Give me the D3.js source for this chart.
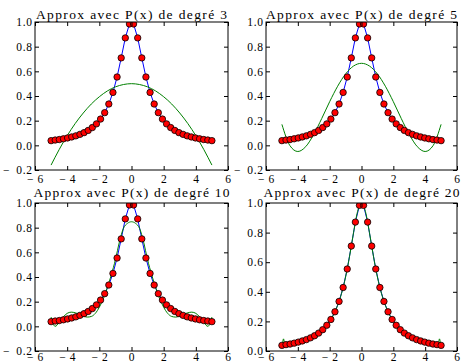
<!DOCTYPE html>
<html>
<head>
<meta charset="utf-8">
<script src="https://cdn.jsdelivr.net/npm/d3@7"></script>
<style>
  body { margin: 0; background: #fff; }
  svg { display: block; }
  text { font-family: "Liberation Serif", "Times New Roman", serif; }
</style>
</head>
<body>
<svg id="chart" width="462" height="363"></svg>
<script>
// sampled points (red dots + blue line)
const sampleX = [-5, -4.744, -4.487, -4.231, -3.974, -3.718, -3.462, -3.205, -2.949, -2.692,
  -2.436, -2.179, -1.923, -1.667, -1.410, -1.154, -0.897, -0.641, -0.385, -0.128,
  0.128, 0.385, 0.641, 0.897, 1.154, 1.410, 1.667, 1.923, 2.179, 2.436,
  2.692, 2.949, 3.205, 3.462, 3.718, 3.974, 4.231, 4.487, 4.744, 5];
const sampleY = [0.038, 0.043, 0.047, 0.053, 0.060, 0.068, 0.077, 0.089, 0.103, 0.121,
  0.144, 0.174, 0.213, 0.265, 0.335, 0.429, 0.554, 0.709, 0.871, 0.984,
  0.984, 0.871, 0.709, 0.554, 0.429, 0.335, 0.265, 0.213, 0.174, 0.144,
  0.121, 0.103, 0.089, 0.077, 0.068, 0.060, 0.053, 0.047, 0.043, 0.038];

// green approximations, one per degree
const degrees = [3, 5, 10, 20];
const fit3X = [-5, -4.5, -4, -3.5, -3, -2.5, -2, -1.5, -1, -0.5, 0, 0.5, 1, 1.5, 2, 2.5, 3, 3.5, 4, 4.5, 5];
const fit3Y = [-0.16, -0.035, 0.078, 0.177, 0.262, 0.335, 0.394, 0.441, 0.474, 0.493, 0.5,
  0.493, 0.474, 0.441, 0.394, 0.335, 0.262, 0.177, 0.078, -0.035, -0.16];
const fit5X = [-5, -4.5, -4, -3.5, -3, -2.5, -2, -1.5, -1, -0.5, 0, 0.5, 1, 1.5, 2, 2.5, 3, 3.5, 4, 4.5, 5];
const fit5Y = [0.17, -0.002, -0.05, -0.01, 0.089, 0.217, 0.354, 0.479, 0.579, 0.643, 0.665,
  0.643, 0.579, 0.479, 0.354, 0.217, 0.089, -0.01, -0.05, -0.002, 0.17];
const fit10X = [-5, -4.875, -4.75, -4.5, -4.25, -4, -3.75, -3.5, -3.25, -3, -2.75, -2.5, -2.25, -2,
  -1.75, -1.5, -1.25, -1, -0.75, -0.5, -0.25, 0, 0.25, 0.5, 0.75, 1, 1.25, 1.5, 1.75,
  2, 2.25, 2.5, 2.75, 3, 3.25, 3.5, 3.75, 4, 4.25, 4.5, 4.75, 4.875, 5];
const fit10Y = [0.075, 0.022, 0.0, 0.03, 0.075, 0.105, 0.115, 0.11, 0.097, 0.083, 0.075, 0.08, 0.105, 0.155,
  0.225, 0.315, 0.42, 0.54, 0.685, 0.795, 0.835, 0.848, 0.835, 0.795, 0.685, 0.54, 0.42, 0.315, 0.225,
  0.155, 0.105, 0.08, 0.075, 0.083, 0.097, 0.11, 0.115, 0.105, 0.075, 0.03, 0.0, 0.022, 0.075];
const fit20X = [-5, -4.95, -4.9, -4.85, -4.8, -4.75, -4.5, -4.25, -4, -3.75, -3.5, -3.25, -3, -2.75,
  -2.5, -2.25, -2, -1.75, -1.5, -1.25, -1, -0.75, -0.5, -0.25, 0, 0.25, 0.5, 0.75, 1, 1.25,
  1.5, 1.75, 2, 2.25, 2.5, 2.75, 3, 3.25, 3.5, 3.75, 4, 4.25, 4.5, 4.75, 4.8, 4.85, 4.9, 4.95, 5];
const fit20Y = [0.035, 0.06, 0.082, 0.06, 0.041, 0.042, 0.047, 0.052, 0.059, 0.066, 0.075, 0.086, 0.1, 0.117,
  0.138, 0.165, 0.2, 0.246, 0.308, 0.39, 0.5, 0.64, 0.8, 0.941, 1.0, 0.941, 0.8, 0.64, 0.5, 0.39,
  0.308, 0.246, 0.2, 0.165, 0.138, 0.117, 0.1, 0.086, 0.075, 0.066, 0.059, 0.052, 0.047, 0.042, 0.041, 0.06, 0.082, 0.06, 0.035];

const xTicks = [-6, -4, -2, 0, 2, 4, 6];
const yTicksLow = [-0.2, 0, 0.2, 0.4, 0.6, 0.8, 1.0];
const yTicksHigh = [0, 0.2, 0.4, 0.6, 0.8, 1.0];

const panels = [
  { deg: degrees[0], fx: fit3X, fy: fit3Y, yDomain: [-0.2, 1], yTicks: yTicksLow },
  { deg: degrees[1], fx: fit5X, fy: fit5Y, yDomain: [-0.2, 1], yTicks: yTicksLow },
  { deg: degrees[2], fx: fit10X, fy: fit10Y, yDomain: [-0.2, 1], yTicks: yTicksLow },
  { deg: degrees[3], fx: fit20X, fy: fit20Y, yDomain: [0, 1], yTicks: yTicksHigh },
];

// axes boxes
const cols = [[35, 228], [266, 457]];
const rows = [[22, 170], [203, 351]];
const titleBase = [18.5, 197];
const xPad = [5.2, 2.2];

const svg = d3.select('#chart');
const serif = '"Liberation Serif", "Times New Roman", serif';

const fmtY = (d) => d < 0 ? '\u2212\u2002' + Math.abs(d).toFixed(1) : d.toFixed(1);
const fmtX = (d) => d < 0 ? '\u2212 ' + Math.abs(d) : String(d);

function styleAxis(g) {
  g.select('.domain').remove();
  g.attr('font-family', serif).attr('font-size', 11.5);
  g.selectAll('text')
    .style('font-family', serif)
    .style('font-size', '11.5px')
    .style('letter-spacing', '0.6px')
    .attr('fill', '#000');
  g.selectAll('line').attr('stroke', '#000');
}

panels.forEach((p, i) => {
  const [left, right] = cols[i % 2];
  const row = Math.floor(i / 2);
  const [top, bottom] = rows[row];

  const x = d3.scaleLinear().domain([-6, 6]).range([left, right]);
  const y = d3.scaleLinear().domain(p.yDomain).range([bottom, top]);

  const clipId = 'clip' + i;
  svg.append('clipPath').attr('id', clipId)
    .append('rect')
    .attr('x', left).attr('y', top)
    .attr('width', right - left).attr('height', bottom - top);

  const plot = svg.append('g').attr('clip-path', `url(#${clipId})`);

  const line = d3.line().x((d) => x(d[0])).y((d) => y(d[1]));

  plot.append('path')
    .datum(sampleX.map((v, k) => [v, sampleY[k]]))
    .attr('d', line)
    .attr('fill', 'none')
    .attr('stroke', '#0000ff')
    .attr('stroke-width', 1);

  plot.append('path')
    .datum(p.fx.map((v, k) => [v, p.fy[k]]))
    .attr('d', line.curve(d3.curveMonotoneX))
    .attr('fill', 'none')
    .attr('stroke', '#008000')
    .attr('stroke-width', 1);

  plot.selectAll('circle')
    .data(sampleX.map((v, k) => [v, sampleY[k]]))
    .join('circle')
    .attr('cx', (d) => x(d[0]))
    .attr('cy', (d) => y(d[1]))
    .attr('r', 3.2)
    .attr('fill', '#ff0000')
    .attr('stroke', '#000')
    .attr('stroke-width', 0.8);

  // ticks on all four sides, pointing inward
  svg.append('g')
    .attr('transform', `translate(0,${bottom})`)
    .call(d3.axisBottom(x).tickValues(xTicks).tickSize(-4).tickPadding(xPad[row]).tickFormat(fmtX))
    .call(styleAxis);
  svg.append('g')
    .attr('transform', `translate(0,${top})`)
    .call(d3.axisTop(x).tickValues(xTicks).tickSize(-4).tickFormat(''))
    .call(styleAxis);
  svg.append('g')
    .attr('transform', `translate(${left},0)`)
    .call(d3.axisLeft(y).tickValues(p.yTicks).tickSize(-4).tickPadding(2.5).tickFormat(fmtY))
    .call(styleAxis);
  svg.append('g')
    .attr('transform', `translate(${right},0)`)
    .call(d3.axisRight(y).tickValues(p.yTicks).tickSize(-4).tickFormat(''))
    .call(styleAxis);

  svg.append('rect')
    .attr('x', left).attr('y', top)
    .attr('width', right - left).attr('height', bottom - top)
    .attr('fill', 'none')
    .attr('stroke', '#000')
    .attr('stroke-width', 1);

  svg.append('text')
    .attr('x', (left + right) / 2)
    .attr('y', titleBase[row])
    .attr('text-anchor', 'middle')
    .attr('textLength', p.deg < 10 ? 191 : 196)
    .attr('lengthAdjust', 'spacing')
    .style('font-family', serif)
    .style('font-size', '13.5px')
    .text(`Approx avec P(x) de degré ${p.deg}`);
});
</script>
</body>
</html>
